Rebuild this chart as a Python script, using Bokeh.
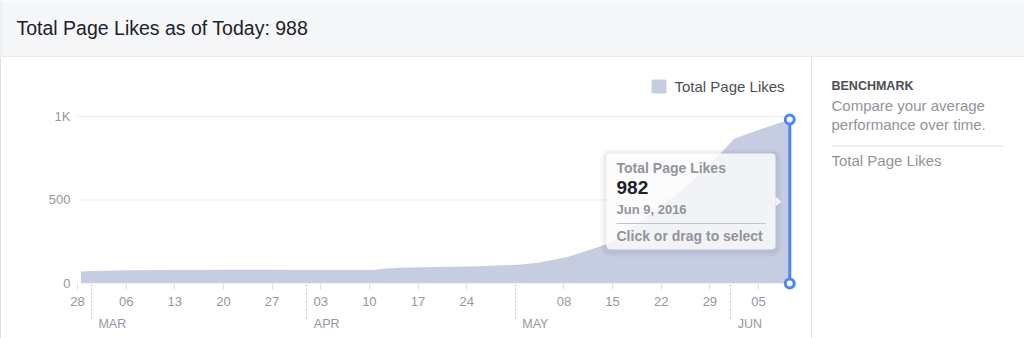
import pandas as pd
from bokeh.plotting import figure
from bokeh.layouts import column, row
from bokeh.models import (Range1d, FixedTicker, DatetimeTickFormatter, Label, BoxAnnotation,
                          PolyAnnotation, Spacer, ColumnDataSource)
from bokeh.core.properties import value
from bokeh.embed import file_html
from bokeh.resources import INLINE

# ---------------- data ----------------
series_name = "Total Page Likes"
today_likes = 988
dates = ["2016-02-28", "2016-03-01", "2016-03-06", "2016-03-13", "2016-03-20", "2016-03-27",
         "2016-04-03", "2016-04-10", "2016-04-12", "2016-04-14", "2016-04-17", "2016-04-24",
         "2016-05-01", "2016-05-04", "2016-05-08", "2016-05-12", "2016-05-14", "2016-05-19",
         "2016-05-24", "2016-05-28", "2016-05-30", "2016-06-01", "2016-06-05", "2016-06-09"]
likes = [72, 75, 79, 81, 82, 82,
         81, 81, 90, 95, 97, 102,
         112, 126, 158, 212, 240, 387,
         540, 690, 777, 866, 926, 982]
week_ticks = ["2016-02-28", "2016-03-06", "2016-03-13", "2016-03-20", "2016-03-27",
              "2016-04-03", "2016-04-10", "2016-04-17", "2016-04-24",
              "2016-05-08", "2016-05-15", "2016-05-22", "2016-05-29", "2016-06-05"]
month_starts = ["2016-03-01", "2016-04-01", "2016-05-01", "2016-06-01"]
month_labels = ["MAR", "APR", "MAY", "JUN"]
y_ticks = [0, 500, 1000]
y_grid = [500, 1000]
y_tick_overrides = {1000: "1K"}
hover_index = len(likes) - 1

# ---------------- styles ----------------
FONT = "Liberation Sans"
GRAY = "#90949c"
TICK_GRAY = "#9197a3"
DARK = "#1d2129"
MID = "#4b4f56"
BORDER = "#dddfe2"
AREA = "#c6cde0"
BLUE = "#4e86f5"

def ms(ts):
    return pd.Timestamp(ts).value / 1e6

x = pd.to_datetime(dates) + pd.Timedelta(hours=12)   # daily points sit at mid-day
src = ColumnDataSource(dict(x=x, likes=likes))
hover_x = x[hover_index]
hover_y = likes[hover_index]

# ---------------- header ----------------
header = figure(width=1024, height=57, x_range=Range1d(0, 1024), y_range=Range1d(57, 0),
                x_axis_type=None, y_axis_type=None, min_border=0, toolbar_location=None,
                output_backend="svg", background_fill_color="#f6f7f9",
                border_fill_color="#f6f7f9", outline_line_color=None)
header.add_layout(Label(x=16, y=27, text=f"{series_name} as of Today: {today_likes}",
                        text_baseline="middle", text_font=FONT, text_font_size="19.5px",
                        text_color=DARK))
header.segment(x0=[0], y0=[56.5], x1=[1024], y1=[56.5], line_color=BORDER, line_width=1)
header.segment(x0=[0.5], y0=[0], x1=[0.5], y1=[57], line_color=BORDER, line_width=1)

# ---------------- main chart ----------------
x_start = pd.Timestamp(week_ticks[0])
px_per_day = 6.949
x_end = x_start + pd.Timedelta(days=734 / px_per_day)

p = figure(width=810, height=281, x_axis_type="datetime",
           x_range=Range1d(x_start, x_end), y_range=Range1d(0, 1353),
           min_border_left=76, min_border_right=0, min_border_top=0, min_border_bottom=55,
           toolbar_location=None, output_backend="svg", outline_line_color=None,
           background_fill_color="white", border_fill_color="white")
p.xgrid.grid_line_color = None
p.ygrid.grid_line_color = None

# horizontal guide lines
p.segment(x0=[x_start] * len(y_grid), x1=[hover_x] * len(y_grid), y0=y_grid, y1=y_grid,
          line_color="#e9ebee", line_width=1)

p.varea(x="x", y1=0, y2="likes", source=src, fill_color=AREA)

# x axis: weekly ticks, dotted month separators as minor ticks
p.xaxis.ticker = FixedTicker(ticks=[ms(t) for t in week_ticks],
                             minor_ticks=[ms(t) for t in month_starts])
p.xaxis.formatter = DatetimeTickFormatter(days="%d", months="%d", years="%d",
                                          hours="%d", hourmin="%d")
p.xaxis.axis_line_color = None
p.xaxis.major_tick_in = 0
p.xaxis.major_tick_out = 6
p.xaxis.major_tick_line_color = BORDER
p.xaxis.minor_tick_in = 0
p.xaxis.minor_tick_out = 35
p.xaxis.minor_tick_line_color = "#bec2c9"
p.xaxis.minor_tick_line_dash = "2 2"
p.xaxis.major_label_standoff = -22
p.xaxis.major_label_text_font = FONT
p.xaxis.major_label_text_font_size = "13px"
p.xaxis.major_label_text_color = TICK_GRAY

# y axis
p.yaxis.ticker = FixedTicker(ticks=y_ticks)
p.yaxis.major_label_overrides = y_tick_overrides
p.yaxis.axis_line_color = None
p.yaxis.major_tick_in = 0
p.yaxis.major_tick_out = 0
p.yaxis.minor_tick_line_color = None
p.yaxis.major_label_standoff = 7
p.yaxis.major_label_text_font = FONT
p.yaxis.major_label_text_font_size = "13px"
p.yaxis.major_label_text_color = TICK_GRAY

# month labels (below the axis, drawn unclipped)
p.text(x=pd.to_datetime(month_starts), y=[0] * len(month_starts), text=month_labels,
       x_offset=7, y_offset=40, text_baseline="middle", text_align="left",
       text_font=value(FONT), text_font_size="12.5px", text_color=TICK_GRAY,
       level="overlay")

# legend
p.add_layout(BoxAnnotation(left=574, right=589, bottom=190, top=204,
                           left_units="screen", right_units="screen",
                           bottom_units="screen", top_units="screen",
                           fill_color=AREA, fill_alpha=1, line_color=None, border_radius=2))
p.add_layout(Label(x=597, y=197, x_units="screen", y_units="screen", text=series_name,
                   text_baseline="middle", text_font=FONT, text_font_size="15px",
                   text_color=MID))

# hover marker
p.segment(x0=[hover_x], y0=[0], x1=[hover_x], y1=[hover_y], line_color=BLUE, line_width=3)
p.scatter(x=[hover_x, hover_x], y=[0, hover_y], size=9, fill_color="white",
          line_color=BLUE, line_width=3, level="overlay")

# tooltip
def sbox(l, r, b, t, **kw):
    return BoxAnnotation(left=l, right=r, bottom=b, top=t, left_units="screen",
                         right_units="screen", bottom_units="screen", top_units="screen", **kw)

p.add_layout(sbox(523, 704, 27, 134, fill_color="black", fill_alpha=0.03, line_color=None,
                  border_radius=9))
p.add_layout(sbox(526, 701, 30, 132, fill_color="black", fill_alpha=0.04, line_color=None,
                  border_radius=6))
p.add_layout(sbox(529, 698, 34, 130, fill_color="white", fill_alpha=0.82, line_color=None,
                  border_radius=4))
p.add_layout(PolyAnnotation(xs=[698, 704, 698], ys=[87, 82, 77], xs_units="screen",
                            ys_units="screen", fill_color="white", fill_alpha=0.82,
                            line_color=None))
tip_date = pd.Timestamp(dates[hover_index])
tip_lines = [
    (116, series_name, "14px", GRAY),
    (96, f"{hover_y}", "19px", DARK),
    (74, f"{tip_date.strftime('%b')} {tip_date.day}, {tip_date.year}", "13px", GRAY),
    (48, "Click or drag to select", "14px", GRAY),
]
for ty, txt, fs, col in tip_lines:
    p.add_layout(Label(x=539, y=ty, x_units="screen", y_units="screen", text=txt,
                       text_baseline="middle", text_font=FONT, text_font_size=fs,
                       text_font_style="bold", text_color=col))
p.add_layout(sbox(539, 688, 59.5, 60.5, fill_color="#bec2c9", fill_alpha=1, line_color=None))

# ---------------- side panel ----------------
side = figure(width=212, height=281, x_range=Range1d(0, 212), y_range=Range1d(226, 0),
              x_axis_type=None, y_axis_type=None, min_border_left=0, min_border_right=0,
              min_border_top=0, min_border_bottom=55, toolbar_location=None,
              output_backend="svg", background_fill_color="white",
              border_fill_color="white", outline_line_color=None)
side.segment(x0=[19], y0=[88.5], x1=[191], y1=[88.5], line_color=BORDER, line_width=1)
side_texts = [
    (28, "BENCHMARK", "12.5px", MID, "bold"),
    (48, "Compare your average", "15px", GRAY, "normal"),
    (66.5, "performance over time.", "15px", GRAY, "normal"),
    (102.5, series_name, "15px", GRAY, "normal"),
]
for ty, txt, fs, col, st in side_texts:
    side.add_layout(Label(x=19, y=ty, text=txt, text_baseline="middle", text_font=FONT,
                          text_font_size=fs, text_color=col, text_font_style=st))

left_border = Spacer(width=1, height=281, styles={"background-color": BORDER})
mid_border = Spacer(width=1, height=281, styles={"background-color": BORDER})
layout = column(header, row(left_border, p, mid_border, side))

open("out.html", "w").write(file_html(layout, INLINE))
